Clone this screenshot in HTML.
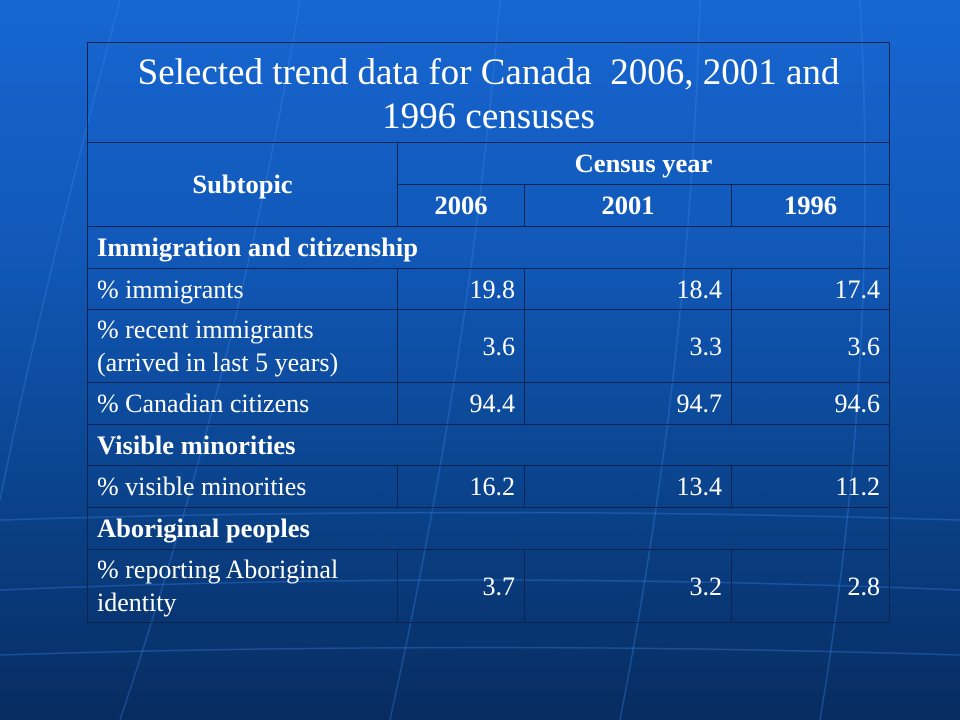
<!DOCTYPE html>
<html><head><meta charset="utf-8"><style>
html,body{margin:0;padding:0}
body{width:960px;height:720px;overflow:hidden;position:relative;background:linear-gradient(180deg,#1766d2 0%,#1158b8 35%,#0b4590 65%,#072c60 100%);font-family:"Liberation Serif",serif;color:#fff}
svg.bg{position:absolute;left:0;top:0}
table{position:absolute;left:87px;top:42px;width:802px;border-collapse:collapse;table-layout:fixed}
td{border:1px solid #0a2350;padding:0 9px;font-size:26px;line-height:33px;vertical-align:middle;white-space:nowrap}
.t{font-size:37px;line-height:44px;text-align:center;white-space:normal;padding-top:4px}
.b{font-weight:bold;font-size:26.5px}
.c{text-align:center}
.r{text-align:right}
</style></head><body>
<svg class="bg" width="960" height="720">
<g stroke="#3d86e6" stroke-opacity="0.35" fill="none" stroke-width="1.5">
<path d="M0 590 Q480 570 960 590"/><path d="M0 655 Q480 640 960 655"/><path d="M0 520 Q480 505 960 520"/>
<path d="M300 0 Q240 360 120 720"/><path d="M500 0 Q470 360 390 720"/><path d="M700 0 Q690 360 620 720"/>
<path d="M860 0 Q880 360 820 720"/><path d="M120 0 Q40 300 0 500"/>
</g></svg>
<table>
<colgroup><col style="width:310px"><col style="width:127px"><col style="width:207px"><col style="width:158px"></colgroup>
<tr style="height:100px"><td colspan="4" class="t">Selected trend data for Canada&nbsp; 2006, 2001 and<br>1996 censuses</td></tr>
<tr style="height:42px"><td rowspan="2" class="b c">Subtopic</td><td colspan="3" class="b c">Census year</td></tr>
<tr style="height:42px"><td class="b c">2006</td><td class="b c">2001</td><td class="b c">1996</td></tr>
<tr style="height:42px"><td colspan="4" class="b">Immigration and citizenship</td></tr>
<tr style="height:41px"><td>% immigrants</td><td class="r">19.8</td><td class="r">18.4</td><td class="r">17.4</td></tr>
<tr style="height:73px"><td>% recent immigrants<br>(arrived in last 5 years)</td><td class="r">3.6</td><td class="r">3.3</td><td class="r">3.6</td></tr>
<tr style="height:42px"><td>% Canadian citizens</td><td class="r">94.4</td><td class="r">94.7</td><td class="r">94.6</td></tr>
<tr style="height:41px"><td colspan="4" class="b">Visible minorities</td></tr>
<tr style="height:42px"><td>% visible minorities</td><td class="r">16.2</td><td class="r">13.4</td><td class="r">11.2</td></tr>
<tr style="height:42px"><td colspan="4" class="b">Aboriginal peoples</td></tr>
<tr style="height:73px"><td>% reporting Aboriginal<br>identity</td><td class="r">3.7</td><td class="r">3.2</td><td class="r">2.8</td></tr>
</table>
</body></html>
